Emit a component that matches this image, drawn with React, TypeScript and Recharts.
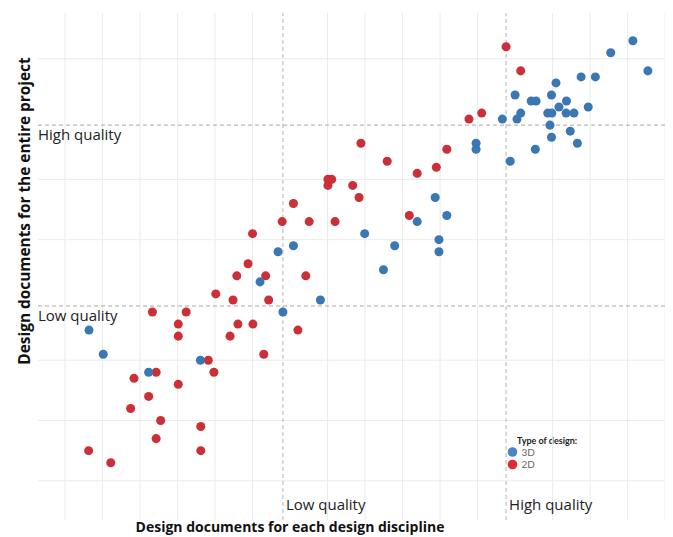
import React from 'react';
import { ScatterChart, Scatter, XAxis, YAxis, ZAxis, ReferenceLine } from 'recharts';

// values in grid units (one light grid cell = 1)
const X_DOMAIN: [number, number] = [-0.72, 16.21];
const Y_DOMAIN: [number, number] = [-0.65, 7.76];
const X_GRID = [0, 1, 2, 3, 4, 5, 7, 8, 9, 10, 11, 13, 14, 15, 16];
const Y_GRID = [0, 1, 2, 4, 5, 7];

const X_LOW = 5.81;
const X_HIGH = 11.76;
const Y_LOW = 2.9;
const Y_HIGH = 5.9;

const POINTS_3D: [number, number][] = [
  [0.64, 2.5], [1.02, 2.1], [2.23, 1.8], [3.61, 2.0], [5.2, 3.3], [5.68, 3.8], [6.09, 3.9],
  [5.81, 2.8], [6.81, 3.0], [7.99, 4.1], [8.49, 3.5], [8.79, 3.9], [9.39, 4.3], [9.97, 4.0],
  [9.97, 3.8], [9.87, 4.7], [10.18, 4.4], [10.96, 5.6], [10.96, 5.5], [11.66, 6.0], [12.05, 6.0],
  [11.87, 5.3], [12.0, 6.4], [12.15, 6.1], [12.43, 6.3], [12.56, 6.3], [12.54, 5.5], [12.87, 6.1],
  [12.98, 6.1], [12.93, 5.9], [12.97, 6.4], [12.97, 5.7], [13.09, 6.6], [13.17, 6.2], [13.37, 6.3],
  [13.36, 6.1], [13.57, 6.1], [13.47, 5.8], [13.66, 5.6], [13.76, 6.7], [13.95, 6.2], [14.14, 6.7],
  [14.55, 7.1], [15.14, 7.3], [15.54, 6.8],
];

const POINTS_2D: [number, number][] = [
  [4.02, 3.1], [4.48, 3.0], [5.43, 3.0], [2.33, 2.8], [3.23, 2.8], [3.02, 2.6], [4.61, 2.6],
  [5.01, 2.6], [6.21, 2.5], [3.02, 2.4], [4.4, 2.4], [5.3, 2.1], [3.82, 2.0], [3.97, 1.8],
  [2.43, 1.8], [1.84, 1.7], [3.02, 1.6], [2.23, 1.4], [1.75, 1.2], [2.55, 1.0], [3.62, 0.9],
  [2.43, 0.7], [0.63, 0.5], [3.62, 0.5], [1.22, 0.3], [4.88, 3.6], [4.58, 3.4], [5.35, 3.4],
  [6.42, 3.4], [5.0, 4.1], [5.79, 4.3], [6.51, 4.3], [7.2, 4.3], [6.09, 4.6], [7.01, 5.0],
  [7.11, 5.0], [7.01, 4.9], [7.67, 4.9], [7.84, 4.7], [7.89, 5.6], [8.59, 5.3], [9.18, 4.4],
  [9.39, 5.1], [9.9, 5.2], [10.18, 5.5], [10.77, 6.0], [11.11, 6.1], [11.76, 7.2], [12.15, 6.8],
];

const LEGEND_TITLE = 'Type of design:';
const LEGEND_ITEMS = [
  { name: '3D', color: '#4a86c6' },
  { name: '2D', color: '#de2a30' },
];

const BLUE = '#3a77b3';
const RED = '#cb2f38';
const GRID = '#ebebeb';

const toData = (pts: [number, number][]) => pts.map(([x, y]) => ({ x, y }));

const labelFont = { fontFamily: 'Open Sans', fontSize: 15, fill: '#222' };
const titleFont = { fontFamily: 'Open Sans', fontWeight: 700, fill: '#111' };

const hLabel = (text: string) => (props: any) => {
  const vb = props.viewBox || {};
  return (
    <text x={vb.x} y={vb.y + 15} {...labelFont}>
      {text}
    </text>
  );
};

const vLabel = (text: string) => (props: any) => {
  const vb = props.viewBox || {};
  return (
    <text x={vb.x + 3} y={vb.y + vb.height - 10} {...labelFont}>
      {text}
    </text>
  );
};

export default function App() {
  return (
    <ScatterChart width={665} height={529} margin={{ top: 5, right: 0, left: 30, bottom: 17 }}>
      <XAxis type="number" dataKey="x" domain={X_DOMAIN} allowDataOverflow hide />
      <YAxis type="number" dataKey="y" domain={Y_DOMAIN} allowDataOverflow hide />
      <ZAxis range={[50, 50]} />

      {X_GRID.map((v) => (
        <ReferenceLine key={'gx' + v} x={v} stroke={GRID} />
      ))}
      {Y_GRID.map((v) => (
        <ReferenceLine key={'gy' + v} y={v} stroke={GRID} />
      ))}

      <Scatter data={toData(POINTS_2D)} fill={RED} isAnimationActive={false} />
      <Scatter data={toData(POINTS_3D)} fill={BLUE} isAnimationActive={false} />

      <ReferenceLine y={Y_HIGH} stroke="#a8a8a8" strokeDasharray="4 3" label={hLabel('High quality')} />
      <ReferenceLine y={Y_LOW} stroke="#a8a8a8" strokeDasharray="4 3" label={hLabel('Low quality')} />
      <ReferenceLine x={X_LOW} stroke="#b5b5b5" strokeDasharray="4 3" label={vLabel('Low quality')} />
      <ReferenceLine x={X_HIGH} stroke="#b5b5b5" strokeDasharray="4 3" label={vLabel('High quality')} />

      <text x={282} y={524} textAnchor="middle" fontSize={14} {...titleFont}>
        Design documents for each design discipline
      </text>
      <text x={22} y={203} textAnchor="middle" fontSize={15.4} transform="rotate(-90, 22, 203)" {...titleFont}>
        Design documents for the entire project
      </text>

      <g fontFamily="Lato">
        <text x={509} y={436} fontSize={9} fontWeight={700} fill="#222">
          {LEGEND_TITLE}
        </text>
        {LEGEND_ITEMS.map((item, i) => (
          <g key={item.name}>
            <circle cx={504.5} cy={444 + i * 12.5} r={4.8} fill={item.color} />
            <text x={513.5} y={447.5 + i * 12.5} fontSize={10} fill="#666">
              {item.name}
            </text>
          </g>
        ))}
      </g>
    </ScatterChart>
  );
}
